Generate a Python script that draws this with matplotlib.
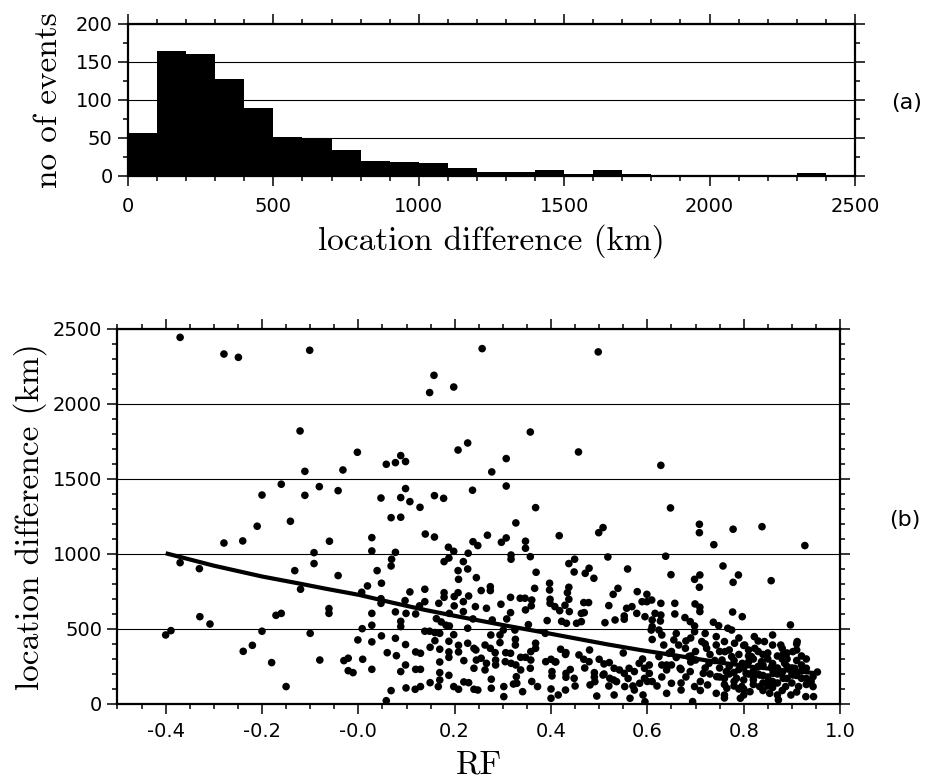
import matplotlib
matplotlib.use("Agg")
import matplotlib.pyplot as plt
from matplotlib.ticker import MultipleLocator, FixedLocator, FixedFormatter

# (a) histogram of location difference, 100 km bins
BIN_EDGES = list(range(0, 2600, 100))
BIN_COUNTS = [57, 165, 160, 127, 90, 51, 50, 34, 20, 18, 17, 11, 5, 5, 8, 3, 8, 2, 1, 1, 1, 1, 1, 4, 1]

# (b) scatter, RF vs location difference (km)
RF = [
    -0.370, -0.279, -0.249, -0.160, -0.200, -0.141, -0.210, -0.240, -0.279, -0.370, -0.330, -0.132,
    -0.329, -0.308, -0.171, -0.160, -0.400, -0.389, -0.200, -0.239, -0.220, -0.180, -0.150,
    -0.101, 0.157, 0.148, 0.198, -0.121, -0.111, -0.002, -0.032, 0.058, 0.077, 0.088, 0.098,
    0.207, 0.227, -0.111, -0.081, -0.042, 0.047, 0.088, 0.098, 0.107, 0.128, 0.158, 0.177,
    0.237, 0.068, 0.088, -0.060, 0.028, 0.028, 0.139, 0.158, -0.092, -0.092, -0.120, 0.068,
    0.077, 0.069, -0.042, 0.039, 0.048, 0.019, 0.007, 0.047, 0.047, -0.061, -0.061, 0.028,
    0.077, 0.099, 0.088, 0.088, 0.028, 0.008, -0.100, 0.107, 0.097, 0.119, 0.127, 0.138,
    0.138, 0.178, 0.178, 0.167, 0.199, 0.207, 0.218, 0.229, 0.208, 0.207, 0.227, 0.218,
    0.187, 0.198, 0.178, 0.188, 0.228, 0.238, 0.245, 0.162, 0.172, 0.182, 0.189, 0.199,
    0.218, 0.243, 0.138, 0.148, 0.159, 0.169, 0.189, 0.198, 0.227, -0.001, 0.028, 0.048,
    0.077, 0.098, 0.060, 0.079, 0.119, 0.129, 0.149, 0.159, 0.169, 0.188, 0.188, 0.188,
    0.208, 0.208, 0.227, 0.240, 0.245, 0.219, -0.080, -0.030, -0.021, -0.021, -0.011, 0.009,
    0.028, 0.088, 0.098, 0.119, 0.129, 0.169, 0.169, 0.188, 0.169, 0.149, 0.129, 0.118,
    0.099, 0.068, 0.058, 0.166, 0.198, 0.208, 0.219, 0.229, 0.240, 0.240,
    0.257, 0.498, 0.357, 0.307, 0.277, 0.457, 0.307, 0.368, 0.327, 0.268, 0.248, 0.297,
    0.307, 0.347, 0.347, 0.417, 0.499, 0.508, 0.317, 0.317, 0.357, 0.518, 0.437, 0.449,
    0.479, 0.471, 0.448, 0.559, 0.369, 0.489, 0.397, 0.397, 0.437, 0.434, 0.437, 0.274,
    0.274, 0.255, 0.366, 0.316, 0.336, 0.346, 0.360, 0.359, 0.347, 0.398, 0.398, 0.408,
    0.418, 0.429, 0.438, 0.468, 0.478, 0.469, 0.520, 0.529, 0.539, 0.579, 0.599, 0.589,
    0.599, 0.568, 0.557, 0.578, 0.266, 0.296, 0.316, 0.308, 0.278, 0.238, 0.353, 0.392,
    0.422, 0.432, 0.453, 0.463, 0.463, 0.512, 0.533, 0.552, 0.552, 0.595, 0.610, 0.608,
    0.610, 0.275, 0.301, 0.325, 0.244, 0.263, 0.274, 0.284, 0.255, 0.266, 0.263, 0.285,
    0.285, 0.294, 0.294, 0.306, 0.305, 0.317, 0.326, 0.326, 0.316, 0.337, 0.347, 0.358,
    0.358, 0.368, 0.368, 0.327, 0.337, 0.328, 0.329, 0.357, 0.388, 0.389, 0.400, 0.408,
    0.402, 0.402, 0.420, 0.431, 0.431, 0.431, 0.448, 0.458, 0.468, 0.479, 0.490, 0.500,
    0.510, 0.521, 0.531, 0.542, 0.552, 0.562, 0.573, 0.583, 0.594, 0.604, 0.604, 0.594,
    0.584, 0.573, 0.591, 0.595, 0.564, 0.553, 0.536, 0.522, 0.508, 0.491, 0.481, 0.495,
    0.531, 0.248, 0.276, 0.276, 0.302, 0.302, 0.322, 0.341, 0.372, 0.400, 0.415, 0.430,
    0.628, 0.648, 0.708, 0.708, 0.778, 0.838, 0.738, 0.927, 0.638, 0.757, 0.649, 0.709,
    0.698, 0.708, 0.789, 0.778, 0.857, 0.609, 0.628, 0.657, 0.699, 0.709, 0.709, 0.777,
    0.797, 0.897, 0.616, 0.628, 0.657, 0.678, 0.689, 0.698, 0.698, 0.737, 0.748, 0.767,
    0.775, 0.627, 0.624, 0.655, 0.634, 0.665, 0.645, 0.679, 0.624, 0.686, 0.713, 0.723,
    0.743, 0.743, 0.760, 0.761, 0.781, 0.802, 0.822, 0.823, 0.843, 0.860, 0.860, 0.877,
    0.911, 0.902, 0.881, 0.700, 0.728, 0.755, 0.775, 0.797, 0.816, 0.837, 0.858, 0.885,
    0.906, 0.930, 0.953, 0.640, 0.668, 0.689, 0.716, 0.744, 0.764, 0.785, 0.805, 0.820,
    0.833, 0.851, 0.861, 0.882, 0.902, 0.920, 0.944, 0.944, 0.945, 0.650, 0.670, 0.698,
    0.725, 0.743, 0.765, 0.793, 0.796, 0.813, 0.833, 0.854, 0.872, 0.887, 0.898, 0.914,
    0.929, 0.694, 0.640,
    0.77, 0.78, 0.79, 0.80, 0.81, 0.82, 0.83, 0.84, 0.85, 0.86, 0.87, 0.88, 0.89, 0.90,
    0.91, 0.92, 0.82, 0.84, 0.86, 0.88, 0.80, 0.78, 0.76, 0.75, 0.73, 0.72, 0.71, 0.69,
    0.68, 0.66, 0.67, 0.65, 0.63, 0.62, 0.61, 0.63, 0.66, 0.69, 0.72, 0.75, 0.79, 0.81,
    0.83, 0.85, 0.87, 0.89, 0.91, 0.93, 0.93, 0.91, 0.89, 0.85, 0.81, 0.77, 0.74, 0.70,
    0.84, 0.87, 0.80, 0.76,
    0.76, 0.78, 0.80, 0.82, 0.84, 0.86, 0.88, 0.90, 0.92, 0.94,
    0.77, 0.79, 0.81, 0.83, 0.85, 0.87, 0.89, 0.91, 0.93,
    0.76, 0.78, 0.80, 0.82, 0.84, 0.86, 0.88, 0.90, 0.92,
    0.75, 0.79, 0.83, 0.87, 0.91,
    0.73, 0.71, 0.69, 0.67, 0.65, 0.63, 0.61, 0.59, 0.57, 0.55, 0.53, 0.51, 0.49, 0.47,
    0.45, 0.43, 0.41,
    0.72, 0.68, 0.64, 0.60, 0.56, 0.52, 0.48, 0.44, 0.40, 0.36,
]
DIST = [
    2444, 2333, 2311, 1465, 1393, 1218, 1185, 1087, 1073, 942, 902, 889,
    582, 533, 591, 604, 460, 489, 485, 351, 391, 276, 116,
    2358, 2191, 2076, 2113, 1820, 1551, 1678, 1560, 1598, 1609, 1656, 1616,
    1693, 1740, 1391, 1449, 1422, 1373, 1376, 1436, 1349, 1311, 1389, 1371,
    1425, 1242, 1245, 1085, 1109, 1020, 1133, 1113, 1009, 936, 765, 920,
    1011, 965, 856, 889, 805, 787, 745, 702, 671, 636, 604, 604,
    614, 604, 551, 516, 525, 502, 471, 747, 689, 600, 654, 765,
    682, 742, 711, 671, 716, 742, 682, 720, 831, 889, 900, 949,
    1045, 1018, 949, 973, 1005, 1082, 842, 569, 547, 525, 604, 654,
    616, 649, 485, 485, 476, 471, 520, 462, 505, 427, 414, 454,
    438, 396, 342, 322, 347, 338, 378, 422, 365, 418, 347, 311,
    391, 347, 405, 371, 293, 289, 293, 289, 305, 222, 209, 298,
    231, 216, 260, 231, 231, 280, 209, 191, 160, 142, 116, 98,
    107, 89, 22, 116, 116, 98, 147, 142, 98, 238,
    2369, 2347, 1813, 1636, 1547, 1680, 1453, 1309, 1207, 1125, 1056, 1078,
    1107, 1085, 1038, 1122, 1142, 1176, 993, 965, 982, 980, 936, 965,
    905, 871, 880, 900, 878, 838, 805, 760, 778, 742, 698, 782,
    756, 756, 771, 711, 705, 705, 693, 654, 627, 698, 671, 649,
    622, 658, 616, 676, 676, 609, 656, 731, 771, 749, 731, 682,
    682, 649, 638, 604, 638, 665, 609, 567, 560, 567, 529, 556,
    551, 538, 538, 549, 604, 542, 560, 565, 587, 582, 560, 493,
    516, 460, 493, 493, 360, 393, 371, 342, 305, 271, 227, 293,
    260, 460, 409, 342, 282, 271, 431, 393, 338, 311, 311, 293,
    349, 405, 371, 260, 227, 182, 138, 238, 471, 282, 298, 282,
    216, 187, 365, 342, 204, 178, 171, 327, 298, 282, 209, 298,
    267, 276, 238, 227, 204, 238, 216, 271, 238, 260, 204, 171,
    138, 93, 60, 15, 38, 116, 149, 171, 193, 149, 127, 53,
    60, 93, 165, 105, 116, 49, 133, 82, 116, 38, 60, 93,
    1591, 1307, 1198, 1142, 1165, 1182, 1062, 1056, 985, 920, 862, 860,
    831, 778, 860, 811, 822, 693, 671, 671, 667, 645, 616, 613,
    582, 527, 604, 593, 600, 576, 549, 520, 482, 545, 522, 505,
    493, 553, 493, 427, 393, 393, 338, 371, 316, 316, 416, 371,
    449, 393, 416, 349, 405, 393, 449, 371, 416, 460, 393, 393,
    416, 349, 327, 293, 271, 293, 316, 271, 316, 282, 249, 271,
    238, 238, 213, 227, 238, 216, 204, 182, 216, 171, 204, 160,
    193, 149, 204, 171, 193, 171, 182, 116, 49, 138, 93, 116,
    127, 71, 105, 38, 116, 82, 116, 71, 27, 116, 60, 116,
    49, 16, 71,
    250, 290, 330, 240, 280, 220, 350, 190, 300, 230, 140, 300, 250, 140,
    290, 220, 130, 260, 110, 210, 100, 150, 130, 240, 330, 240, 150, 280,
    180, 310, 140, 260, 180, 120, 430, 460, 470, 440, 470, 350, 440, 360,
    420, 340, 320, 340, 360, 300, 130, 80, 170, 180, 200, 200, 290, 350,
    90, 60, 60, 60,
    170, 120, 160, 300, 140, 270, 90, 200, 260, 150,
    360, 230, 320, 250, 120, 200, 300, 190, 170,
    40, 210, 390, 180, 330, 150, 370, 240, 320,
    180, 100, 200, 240, 400,
    200, 90, 320, 230, 350, 260, 150, 300, 120, 340, 160, 200, 180, 240,
    120, 330, 280,
    400, 420, 260, 150, 170, 120, 360, 230, 100, 150,
]

# regression curve
FIT_RF = [-0.400, -0.300, -0.200, -0.126, -0.067, 0.002, 0.071, 0.140, 0.209, 0.307,
          0.376, 0.446, 0.516, 0.585, 0.681, 0.751, 0.820, 0.889, 0.951]
FIT_DIST = [1005, 922, 850, 805, 768, 727, 675, 626, 582, 522,
            482, 440, 398, 360, 312, 276, 247, 223, 205]

RF_TICKS = [-0.4, -0.2, 0.0, 0.2, 0.4, 0.6, 0.8, 1.0]
RF_LABELS = ["-0.4", "-0.2", "-0.0", "0.2", "0.4", "0.6", "0.8", "1.0"]

LABEL_FONT = dict(family="cmr10", fontsize=24)
TICK_FONT = "DejaVu Sans"


def gmt_frame(ax):
    for side in ["left", "right", "top", "bottom"]:
        ax.spines[side].set_linewidth(1.6)
    ax.tick_params(which="both", direction="out", top=True, right=True,
                   labeltop=False, labelright=False, width=1.1)
    ax.tick_params(which="major", length=7)
    ax.tick_params(which="minor", length=3.5)
    ax.grid(axis="y", which="major", color="black", linewidth=0.8)
    for lbl in ax.get_xticklabels() + ax.get_yticklabels():
        lbl.set_family(TICK_FONT)


fig = plt.figure(figsize=(9.31, 7.79), dpi=100)

# ---- (a) histogram
ax1 = fig.add_axes([0.1375, 0.7741, 0.7808, 0.1951])
ax1.bar(BIN_EDGES[:-1], BIN_COUNTS, width=100, align="edge", color="black",
        edgecolor="none", zorder=3)
ax1.set_xlim(0, 2500)
ax1.set_ylim(0, 200)
ax1.xaxis.set_major_locator(MultipleLocator(500))
ax1.xaxis.set_minor_locator(MultipleLocator(100))
ax1.yaxis.set_major_locator(MultipleLocator(50))
ax1.yaxis.set_minor_locator(MultipleLocator(25))
ax1.tick_params(axis="x", labelsize=14, pad=8)
ax1.tick_params(axis="y", labelsize=14, pad=4)
gmt_frame(ax1)
ax1.set_xlabel("location difference (km)", labelpad=6, **LABEL_FONT)
ax1.set_ylabel("no of events", labelpad=9, **LABEL_FONT)
fig.text(0.974, 0.868, "(a)", family=TICK_FONT, fontsize=16, ha="center", va="center")

# ---- (b) scatter
ax2 = fig.add_axes([0.1262, 0.0963, 0.7761, 0.4814])
ax2.scatter(RF, DIST, s=30, color="black", edgecolors="none", zorder=3)
ax2.plot(FIT_RF, FIT_DIST, color="black", linewidth=3, solid_capstyle="butt", zorder=4)
ax2.set_xlim(-0.5, 1.0)
ax2.set_ylim(0, 2500)
ax2.xaxis.set_major_locator(FixedLocator(RF_TICKS))
ax2.xaxis.set_major_formatter(FixedFormatter(RF_LABELS))
ax2.xaxis.set_minor_locator(MultipleLocator(0.05))
ax2.yaxis.set_major_locator(MultipleLocator(500))
ax2.yaxis.set_minor_locator(MultipleLocator(100))
ax2.tick_params(axis="x", labelsize=14, pad=6)
ax2.tick_params(axis="y", labelsize=14, pad=4)
gmt_frame(ax2)
ax2.set_xlabel("RF", labelpad=7, **LABEL_FONT)
ax2.set_ylabel("location difference (km)", labelpad=4, **LABEL_FONT)
fig.text(0.972, 0.333, "(b)", family=TICK_FONT, fontsize=16, ha="center", va="center")

fig.savefig("out.png", dpi=100)
